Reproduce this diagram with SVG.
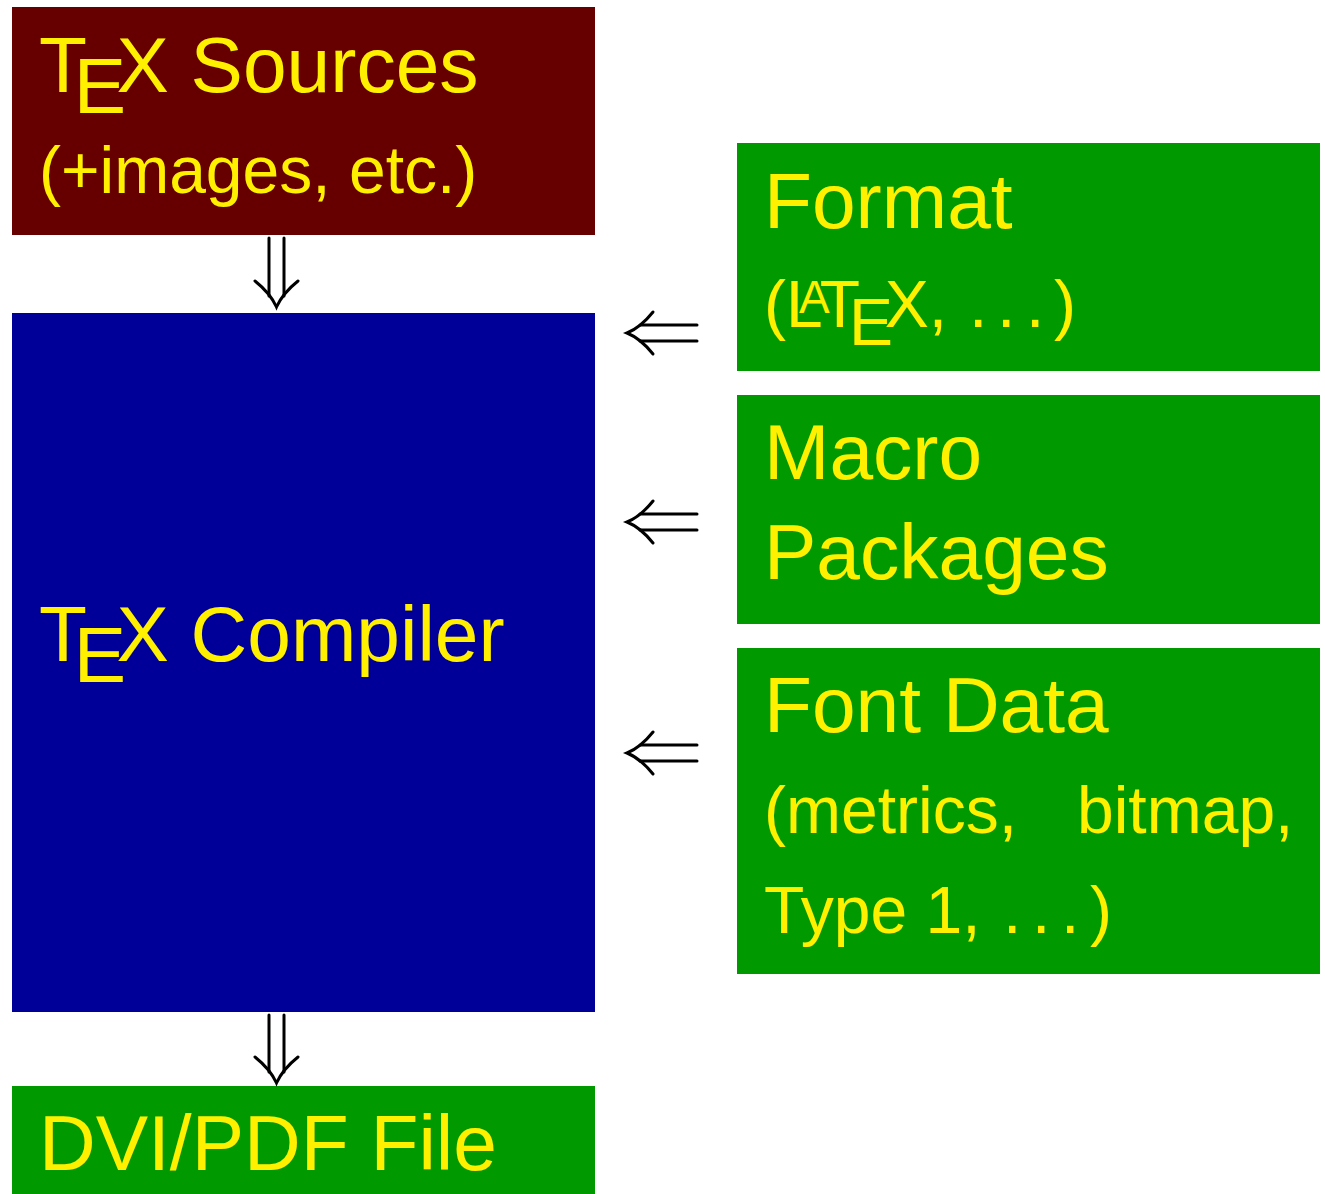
<svg xmlns="http://www.w3.org/2000/svg" width="1325" height="1194" viewBox="0 0 1325 1194">
<style>
  .big { font-family: "Liberation Sans", Arial, sans-serif; font-size: 78.5px; fill: #fff000; }
  .small { font-family: "Liberation Sans", Arial, sans-serif; font-size: 66px; fill: #fff000; }
  .arr { fill: none; stroke: #000; stroke-width: 3; stroke-linecap: round; }
</style>
<rect width="1325" height="1194" fill="#ffffff"/>
<g id="sources">
  <rect x="12" y="7" width="583" height="228" fill="#660000"/>
  <text class="big" x="39" y="92">T<tspan dx="-13.1" dy="21">E</tspan><tspan dx="-9.8" dy="-21">X</tspan> Sources</text>
  <text class="small" x="39" y="193">(+images, etc.)</text>
</g>
<g id="compiler">
  <rect x="12" y="313" width="583" height="699" fill="#000099"/>
  <text class="big" x="39" y="661">T<tspan dx="-13.1" dy="21">E</tspan><tspan dx="-9.8" dy="-21">X</tspan> Compiler</text>
</g>
<g id="output">
  <rect x="12" y="1086" width="583" height="108" fill="#009900"/>
  <text class="big" x="39" y="1170">DVI/PDF File</text>
</g>
<g id="format">
  <rect x="737" y="143" width="583" height="228" fill="#009900"/>
  <text class="big" x="764" y="228">Format</text>
  <text class="small" x="764" y="327">(L<tspan dx="-23.8" dy="-14.4" font-size="46">A</tspan><tspan dx="-9.9" dy="14.4">T</tspan><tspan dx="-11" dy="17.5">E</tspan><tspan dx="-8.25" dy="-17.5">X</tspan>,<tspan x="969">.</tspan><tspan x="997">.</tspan><tspan x="1026">.</tspan><tspan x="1054">)</tspan></text>
</g>
<g id="macros">
  <rect x="737" y="395" width="583" height="229" fill="#009900"/>
  <text class="big" x="764" y="479">Macro</text>
  <text class="big" x="764" y="579">Packages</text>
</g>
<g id="fonts">
  <rect x="737" y="648" width="583" height="326" fill="#009900"/>
  <text class="big" x="764" y="732">Font Data</text>
  <text class="small" x="764" y="833">(metrics,</text>
  <text class="small" x="1077" y="833">bitmap,</text>
  <text class="small" x="764" y="933">Type 1,<tspan x="1003">.</tspan><tspan x="1032">.</tspan><tspan x="1061">.</tspan><tspan x="1090">)</tspan></text>
</g>
<g id="connectors">
  <g id="arrow-sources-compiler">
    <path class="arr" d="M269,238 V296 M284,238 V296"/>
    <path class="arr" d="M255,281 C265,289 272,297 276.5,307 C281,297 288,289 298,281"/>
  </g>
  <g id="arrow-compiler-output">
    <path class="arr" d="M269,1015 V1072 M284,1015 V1072"/>
    <path class="arr" d="M255,1057 C265,1065 272,1073 276.5,1083 C281,1073 288,1065 298,1057"/>
  </g>
  <g id="arrow-format">
    <path class="arr" d="M697,325 H640 M697,341 H640"/>
    <path class="arr" d="M653,312 C645,322 637,329 627,333 C637,337 645,344 653,354"/>
  </g>
  <g id="arrow-macros">
    <path class="arr" d="M697,514 H640 M697,530 H640"/>
    <path class="arr" d="M653,501 C645,511 637,518 627,522 C637,526 645,533 653,543"/>
  </g>
  <g id="arrow-fonts">
    <path class="arr" d="M697,745 H640 M697,761 H640"/>
    <path class="arr" d="M653,732 C645,742 637,749 627,753 C637,757 645,764 653,774"/>
  </g>
</g>
</svg>
